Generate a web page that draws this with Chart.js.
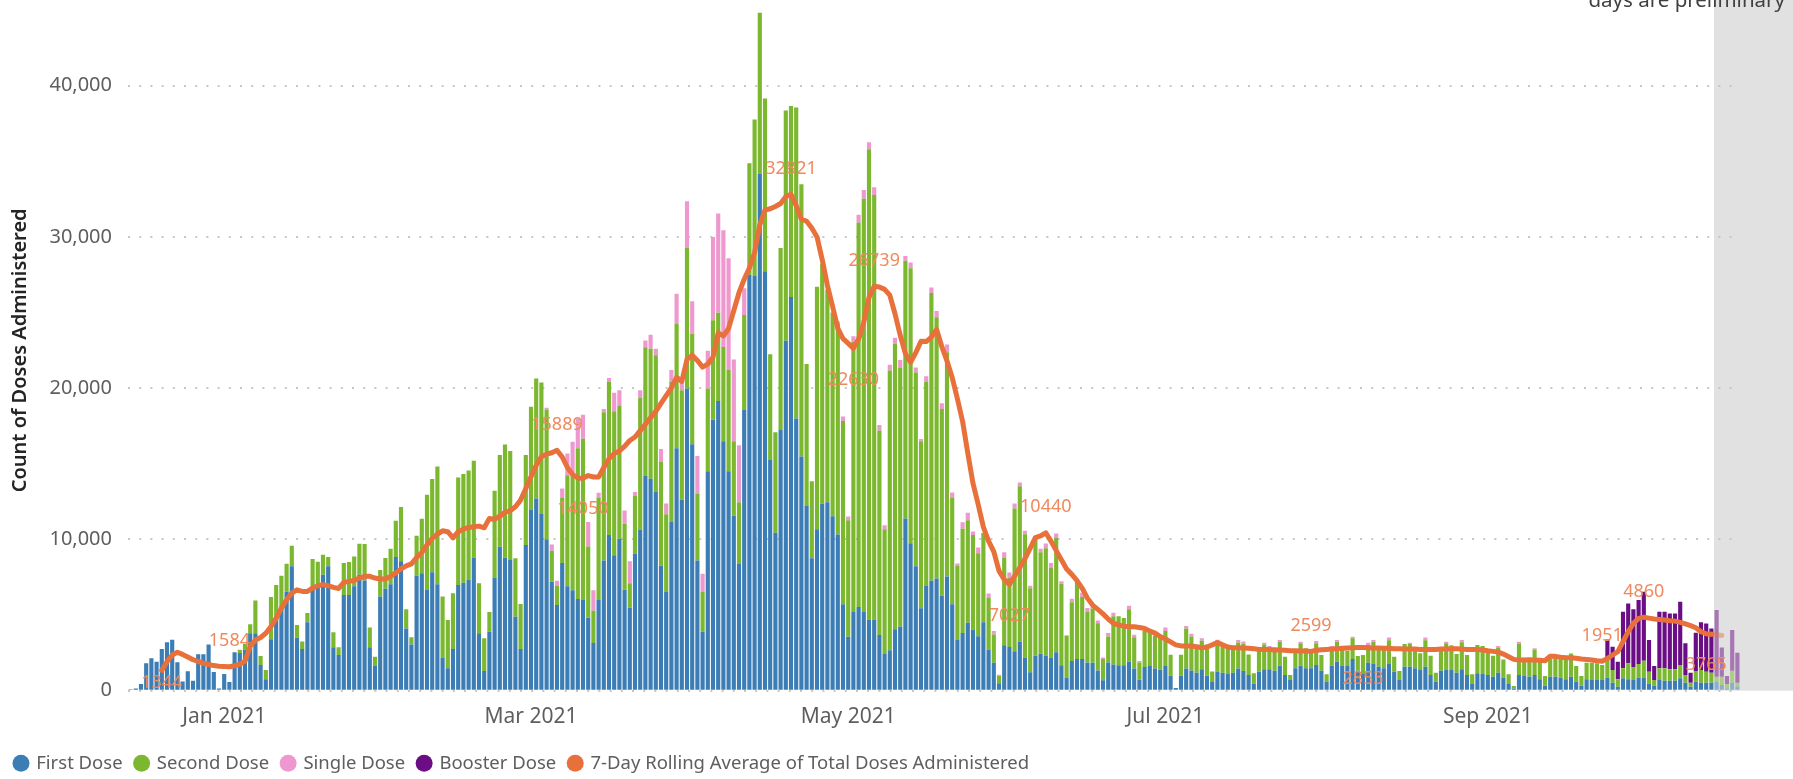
<!DOCTYPE html>
<html>
<head>
<meta charset="utf-8">
<title>Daily doses administered</title>
<script src="https://cdn.jsdelivr.net/npm/chart.js@4.4.1/dist/chart.umd.min.js"></script>
<style>
  html, body { margin: 0; padding: 0; background: #fff; }
  #wrap { width: 1793px; height: 779px; }
</style>
</head>
<body>
<div id="wrap"><canvas id="chart" width="1793" height="779"></canvas></div>
<script>
// one value per day, 14 Dec 2020 -> 19 Oct 2021
const startDate = '2020-12-14';

const firstDose = [
  90,150,440,1810,2140,1920,2760,3200,3360,1880,
  600,1280,660,2410,2410,3050,1240,150,1100,570,
  2540,2500,2700,3800,3800,1700,750,3400,4900,5570,
  6540,8220,3510,2760,4530,6960,6960,7670,8220,2870,
  2360,6320,6320,6900,7670,7290,2870,1640,6230,6740,
  7030,8840,8550,4110,3050,7600,7760,6660,7830,7030,
  2200,1480,2750,6990,7140,7350,8800,3790,1310,3900,
  7490,9520,8790,8640,4890,2750,9630,11940,12710,11680,
  10020,7200,5660,8450,6910,6640,6060,5990,4830,3160,
  5990,8610,10300,8960,10050,6680,5480,9070,10650,14220,
  14010,13130,8260,6520,11160,16030,12620,19970,16300,8610,
  3890,14510,17910,19150,16490,14510,11560,8380,18560,27490,
  27410,34190,27730,15250,10440,17230,23130,26020,18000,15490,
  12210,8760,10680,12360,12450,11540,10330,5710,3560,5200,
  5530,5200,4700,4700,3690,2420,2680,4070,4240,11390,
  9750,8230,5450,6920,7270,7420,6290,7550,5710,3380,
  3810,4490,4040,3600,4530,2730,1850,490,3000,2890,
  2610,3260,2190,1220,2310,2450,2330,2190,2540,1690,
  880,1960,2100,2100,1850,1850,1340,690,1870,1730,
  1690,1690,1920,1460,720,1570,1640,1460,1390,1640,
  990,180,990,1460,1340,1180,1410,990,580,1270,
  1180,1110,1180,1460,1300,1040,480,1260,1410,1410,
  1320,1650,1040,700,1480,1650,1480,1480,1700,1320,
  600,1650,1920,1630,1630,2090,1320,1150,1850,1760,
  1590,1480,1760,1260,700,1590,1590,1480,1370,1590,
  1040,600,1320,1370,1370,1190,1410,1040,480,1150,
  1100,1040,930,1190,880,440,150,1040,970,930,
  1040,750,330,930,930,880,750,930,600,330,
  750,700,700,700,880,530,260,820,750,700,
  880,880,480,330,700,660,660,660,820,530,
  260,590,530,530,530,590,370,150,530,260
];

const secondDose = [
  0,0,0,0,0,0,0,0,0,0,
  0,0,0,0,0,0,0,0,0,0,
  0,200,400,600,2170,600,620,2790,2080,2030,
  1860,1370,840,490,600,1750,1570,1320,620,1000,
  510,2120,2190,1980,2050,2410,1310,610,1750,2030,
  2360,2390,3600,1280,490,2650,3600,6290,6170,7790,
  4020,3190,3690,7110,7190,7200,6400,3310,2150,1300,
  5730,6060,7490,7200,3860,2980,5950,6830,7930,8700,
  8530,2050,1260,4330,7330,7530,9970,10670,4710,2130,
  6790,9790,10140,9510,8810,4360,1620,3830,8700,8490,
  8590,9050,6890,5150,9280,8240,7240,9290,7300,4430,
  2660,5460,6580,5840,6230,6730,4930,4070,6280,7380,
  10350,10620,11420,6990,6640,12030,15220,12630,20560,17990,
  9380,5080,16020,15870,14050,13460,13940,12120,7700,17880,
  25430,27320,31100,28070,13510,8260,18480,18880,17120,17040,
  18180,12800,11040,13480,19020,17270,12340,14820,7070,4900,
  6900,6770,6260,5480,5890,3390,1870,500,5800,4570,
  9430,10250,8160,5550,7920,6700,7090,5920,7580,5380,
  2770,3880,5080,4090,3350,3580,3120,1410,1710,3190,
  3230,3110,3460,2070,1150,2380,2240,2190,2140,2310,
  1390,0,1390,2650,2240,1660,1890,2040,690,1920,
  1710,1730,1660,1730,1800,1360,670,1580,1650,1440,
  1540,1590,1210,340,1250,1480,1320,1250,1430,1040,
  480,1210,1320,1100,1010,1370,970,1210,1170,1480,
  1100,1210,1580,990,600,1490,1490,1210,1100,1750,
  1270,590,1430,1760,1580,1230,1800,1320,600,1870,
  1850,1470,1380,1670,1190,640,160,2040,1210,1270,
  1650,1170,640,1210,1270,1260,1320,1490,1030,640,
  1100,1150,1110,1000,1150,840,490,660,1060,840,
  880,1100,780,370,780,820,750,750,880,510,
  270,710,840,730,660,340,560,290,790,270
];

const singleDose = [
  0,0,0,0,0,0,0,0,0,0, 0,0,0,0,0,0,0,0,0,0,
  0,0,0,0,0,0,0,0,0,0, 0,0,0,0,0,0,0,0,0,0,
  0,0,0,0,0,0,0,0,0,0, 0,0,0,0,0,0,0,0,0,0,
  0,0,0,0,0,0,0,0,0,0, 0,0,0,0,0,0,0,0,0,0,
  150,420,350,580,1440,2280,1970,1580,1620,1350,
  300,230,230,1230,1000,880,1460,230,510,440,
  930,420,830,700,760,1970,700,3100,2150,2480,
  1180,2510,5510,6550,7720,7350,5400,3770,1770,0,
  0,0,0,0,0,0,0,0,0,0,
  0,0,0,0,0,0,130,300,250,350,
  500,580,460,510,370,250,380,380,510,300,
  370,330,150,380,370,410,380,510,320,130,
  430,510,230,390,0,300,230,70,350,350,
  340,260,230,160,0,230,310,340,280,160,
  0,240,170,280,270,140,180,90,230,230,
  0,0,230,170,90,0,0,0,0,230,
  0,0,0,160,190,0,170,0,0,180,
  0,0,0,160,150,0,0,0,110,100,
  0,110,0,0,0,110,0,0,150,0,
  0,90,110,0,0,110,0,0,150,110,
  0,0,180,0,0,0,90,0,0,180,
  0,0,110,110,70,0,140,0,0,0,
  0,0,0,90,0,0,0,160,0,0,
  110,0,0,0,0,0,0,50,0,0,
  0,0,0,0,0,0,0,0,0,0, 0,0,0,0,0,0,0,0,0,0,
  0,0,0,0,0,0,0,0,0,0
];

const boosterDose = [
  0,0,0,0,0,0,0,0,0,0, 0,0,0,0,0,0,0,0,0,0,
  0,0,0,0,0,0,0,0,0,0, 0,0,0,0,0,0,0,0,0,0,
  0,0,0,0,0,0,0,0,0,0, 0,0,0,0,0,0,0,0,0,0,
  0,0,0,0,0,0,0,0,0,0, 0,0,0,0,0,0,0,0,0,0,
  0,0,0,0,0,0,0,0,0,0, 0,0,0,0,0,0,0,0,0,0,
  0,0,0,0,0,0,0,0,0,0, 0,0,0,0,0,0,0,0,0,0,
  0,0,0,0,0,0,0,0,0,0, 0,0,0,0,0,0,0,0,0,0,
  0,0,0,0,0,0,0,0,0,0, 0,0,0,0,0,0,0,0,0,0,
  0,0,0,0,0,0,0,0,0,0, 0,0,0,0,0,0,0,0,0,0,
  0,0,0,0,0,0,0,0,0,0, 0,0,0,0,0,0,0,0,0,0,
  0,0,0,0,0,0,0,0,0,0, 0,0,0,0,0,0,0,0,0,0,
  0,0,0,0,0,0,0,0,0,0, 0,0,0,0,0,0,0,0,0,0,
  0,0,0,0,0,0,0,0,0,0, 0,0,0,0,0,0,0,0,0,0,
  0,0,0,0,0,0,0,0,0,0, 0,0,0,0,0,0,0,0,0,0,
  0,0,0,0,1360,1540,1170,3740,3960,3840,
  4230,4560,2090,930,3740,3740,3700,3700,4180,2090,
  660,2530,3150,3190,2930,4400,1930,530,2690,1980
];

const rollingAvg = [
  null,null,null,null,null,null,1344,1920,2360,2540,
  2400,2230,2050,1930,1820,1730,1660,1620,1600,1584,
  1650,1750,1950,2950,3350,3520,3800,4240,4800,5460,
  6010,6450,6670,6560,6560,6780,6940,7010,6940,6830,
  6760,7160,7230,7290,7450,7560,7560,7450,7380,7380,
  7560,7800,8050,8250,8380,8800,9140,9630,10070,10350,
  10570,10510,10110,10510,10680,10790,10840,10880,10770,11390,
  11320,11540,11790,11900,12160,12600,13370,14140,14910,15470,
  15640,15730,15889,15450,14760,14290,14060,14050,14220,14130,
  14130,14760,15340,15680,15850,16150,16540,16770,17190,17610,
  18050,18470,19000,19510,20020,20720,20440,21900,22180,21830,
  21390,21590,22040,23660,23450,23950,25130,26310,27200,27940,
  28970,30800,31770,31860,32010,32210,32660,32821,32070,31180,
  31030,30590,30000,28500,26800,25400,23950,23270,22960,22630,
  23250,24360,25990,26739,26690,26530,26150,24920,23500,22280,
  21710,22350,23100,23080,23370,23880,22750,21800,20700,19300,
  17800,15700,13700,12310,10810,9890,9190,7920,7350,7027,
  7580,8150,8730,9420,10120,10230,10440,9890,9260,8660,
  8040,7690,7280,6770,6120,5660,5380,5080,4740,4460,
  4340,4270,4230,4230,4180,4110,3950,3810,3580,3420,
  3230,3030,2960,2960,2960,2910,2840,2890,3030,3190,
  3030,2890,2840,2840,2820,2800,2780,2730,2730,2730,
  2690,2690,2670,2640,2640,2630,2620,2599,2670,2710,
  2730,2750,2780,2800,2820,2840,2850,2853,2840,2820,
  2820,2800,2800,2780,2780,2750,2750,2750,2730,2730,
  2730,2730,2750,2750,2780,2780,2750,2730,2730,2730,
  2690,2640,2600,2560,2420,2250,2070,2030,2030,2030,
  2030,2010,1980,2280,2270,2220,2180,2180,2140,2090,
  2070,2030,1980,1951,2140,2360,2580,3240,3900,4450,
  4780,4860,4800,4740,4710,4670,4630,4600,4520,4410,
  4300,4160,3900,3765,3730,3700,3650,null,null,null
];

const tickLabels = ['Jan 2021', 'Mar 2021', 'May 2021', 'Jul 2021', 'Sep 2021'];
const tickDates = ['2021-01-01', '2021-03-01', '2021-05-01', '2021-07-01', '2021-09-01'];
const yTicks = [0, 10000, 20000, 30000, 40000];
const yMax = 45000;
const prelimFrom = '2021-10-15';

// which points of the average carry a value label, and on which side
const labelPoints = [
  [6, 'below'], [19, 'above'], [82, 'above'], [87, 'below'], [127, 'above'],
  [139, 'below'], [143, 'above'], [169, 'below'], [176, 'above'], [227, 'above'],
  [237, 'below'], [283, 'above'], [291, 'above'], [303, 'below']
];

// day labels
const categories = [];
const t0 = new Date(startDate + 'T00:00:00Z').getTime();
for (let i = 0; i < firstDose.length; i++) {
  categories.push(new Date(t0 + i * 86400000).toISOString().slice(0, 10));
}
const tickIdx = tickDates.map(d => categories.indexOf(d));
const prelimIdx = categories.indexOf(prelimFrom);

function hexA(hex, a) {
  const n = parseInt(hex.slice(1), 16);
  return 'rgba(' + (n >> 16) + ',' + ((n >> 8) & 255) + ',' + (n & 255) + ',' + a + ')';
}
function barColors(hex) {
  return categories.map((c, i) => i >= prelimIdx ? hexA(hex, 0.5) : hex);
}

const FONT = "'Segoe UI', 'Noto Sans', sans-serif";
Chart.defaults.font.family = FONT;

const prelimPlugin = {
  id: 'prelim',
  beforeDraw(chart) {
    const {ctx, chartArea, scales} = chart;
    const left = scales.x.getPixelForValue(prelimIdx - 0.5);
    ctx.save();
    ctx.fillStyle = '#E1E1E1';
    ctx.fillRect(left, 0, chart.width - left, chartArea.bottom);
    ctx.restore();
  },
  afterDraw(chart) {
    const ctx = chart.ctx;
    ctx.save();
    ctx.font = '20.5px ' + FONT;
    ctx.fillStyle = '#404040';
    ctx.textAlign = 'right';
    ctx.textBaseline = 'alphabetic';
    ctx.fillText('days are preliminary', chart.width - 8, 7);
    ctx.restore();
  }
};

const lineLabelPlugin = {
  id: 'lineLabels',
  afterDatasetsDraw(chart) {
    const meta = chart.getDatasetMeta(4);
    const ctx = chart.ctx;
    ctx.save();
    ctx.font = '18px ' + FONT;
    ctx.fillStyle = '#EF8A5F';
    ctx.textAlign = 'center';
    ctx.textBaseline = 'middle';
    labelPoints.forEach(([i, side]) => {
      const pt = meta.data[i];
      const y = side === 'above' ? pt.y - 25.5 : Math.min(pt.y + 31, chart.chartArea.bottom - 8);
      ctx.fillText(String(rollingAvg[i]), pt.x, y);
    });
    ctx.restore();
  }
};

const barOpts = { barPercentage: 0.8, categoryPercentage: 1, borderWidth: 0, stack: 'doses', order: 1 };

new Chart(document.getElementById('chart'), {
  type: 'bar',
  data: {
    labels: categories,
    datasets: [
      Object.assign({ label: 'First Dose', data: firstDose, backgroundColor: barColors('#3C7DB5') }, barOpts),
      Object.assign({ label: 'Second Dose', data: secondDose, backgroundColor: barColors('#7CB82F') }, barOpts),
      Object.assign({ label: 'Single Dose', data: singleDose, backgroundColor: barColors('#EF98CF') }, barOpts),
      Object.assign({ label: 'Booster Dose', data: boosterDose, backgroundColor: barColors('#6B0E86') }, barOpts),
      {
        type: 'line',
        label: '7-Day Rolling Average of Total Doses Administered',
        data: rollingAvg,
        stack: 'avg',
        order: 0,
        borderColor: '#E8703A',
        backgroundColor: '#E8703A',
        borderWidth: 5,
        borderJoinStyle: 'round',
        borderCapStyle: 'round',
        pointRadius: 0,
        tension: 0,
        segment: {
          borderColor: c => c.p1DataIndex >= prelimIdx ? 'rgba(232,112,58,0.45)' : undefined
        }
      }
    ]
  },
  options: {
    responsive: false,
    animation: false,
    devicePixelRatio: 1,
    layout: { padding: { left: 2, right: 53, top: 10, bottom: -3.5 } },
    scales: {
      x: {
        stacked: true,
        offset: true,
        grid: { display: false, drawTicks: false },
        border: { display: false },
        ticks: {
          autoSkip: false, maxRotation: 0, minRotation: 0, padding: 14,
          color: '#605E5C', font: { size: 21 },
          callback: value => {
            const k = tickIdx.indexOf(value);
            return k >= 0 ? tickLabels[k] : null;
          }
        },
        afterBuildTicks: s => { s.ticks = tickIdx.map(v => ({ value: v })); },
        afterFit: s => { s.height = 50.3; }
      },
      y: {
        stacked: true,
        min: 0,
        max: yMax,
        grid: { color: '#C8C6C4', lineWidth: 2, drawTicks: false },
        border: { display: false, dash: [2, 9.2] },
        ticks: {
          autoSkip: false, padding: 16, color: '#605E5C', font: { size: 20 },
          callback: v => v.toLocaleString('en-US')
        },
        afterBuildTicks: s => { s.ticks = yTicks.map(v => ({ value: v })); },
        afterFit: s => { s.width = 126; s.paddingTop = 0; s.paddingBottom = 0; },
        title: {
          display: true, text: 'Count of Doses Administered',
          color: '#252423', font: { size: 20, weight: '600' }, padding: { top: 6, bottom: 0 }
        }
      }
    },
    plugins: {
      tooltip: { enabled: false },
      legend: {
        position: 'bottom',
        align: 'start',
        labels: {
          usePointStyle: true,
          pointStyle: 'circle',
          boxWidth: 12,
          boxHeight: 12,
          padding: 13,
          color: '#605E5C',
          font: { size: 18.5 },
          sort: (a, b) => a.datasetIndex - b.datasetIndex,
          generateLabels: chart => Chart.defaults.plugins.legend.labels.generateLabels(chart)
            .map(item => Object.assign(item, { lineWidth: 0, strokeStyle: 'rgba(0,0,0,0)' }))
        }
      }
    }
  },
  plugins: [prelimPlugin, lineLabelPlugin]
});
</script>
</body>
</html>
